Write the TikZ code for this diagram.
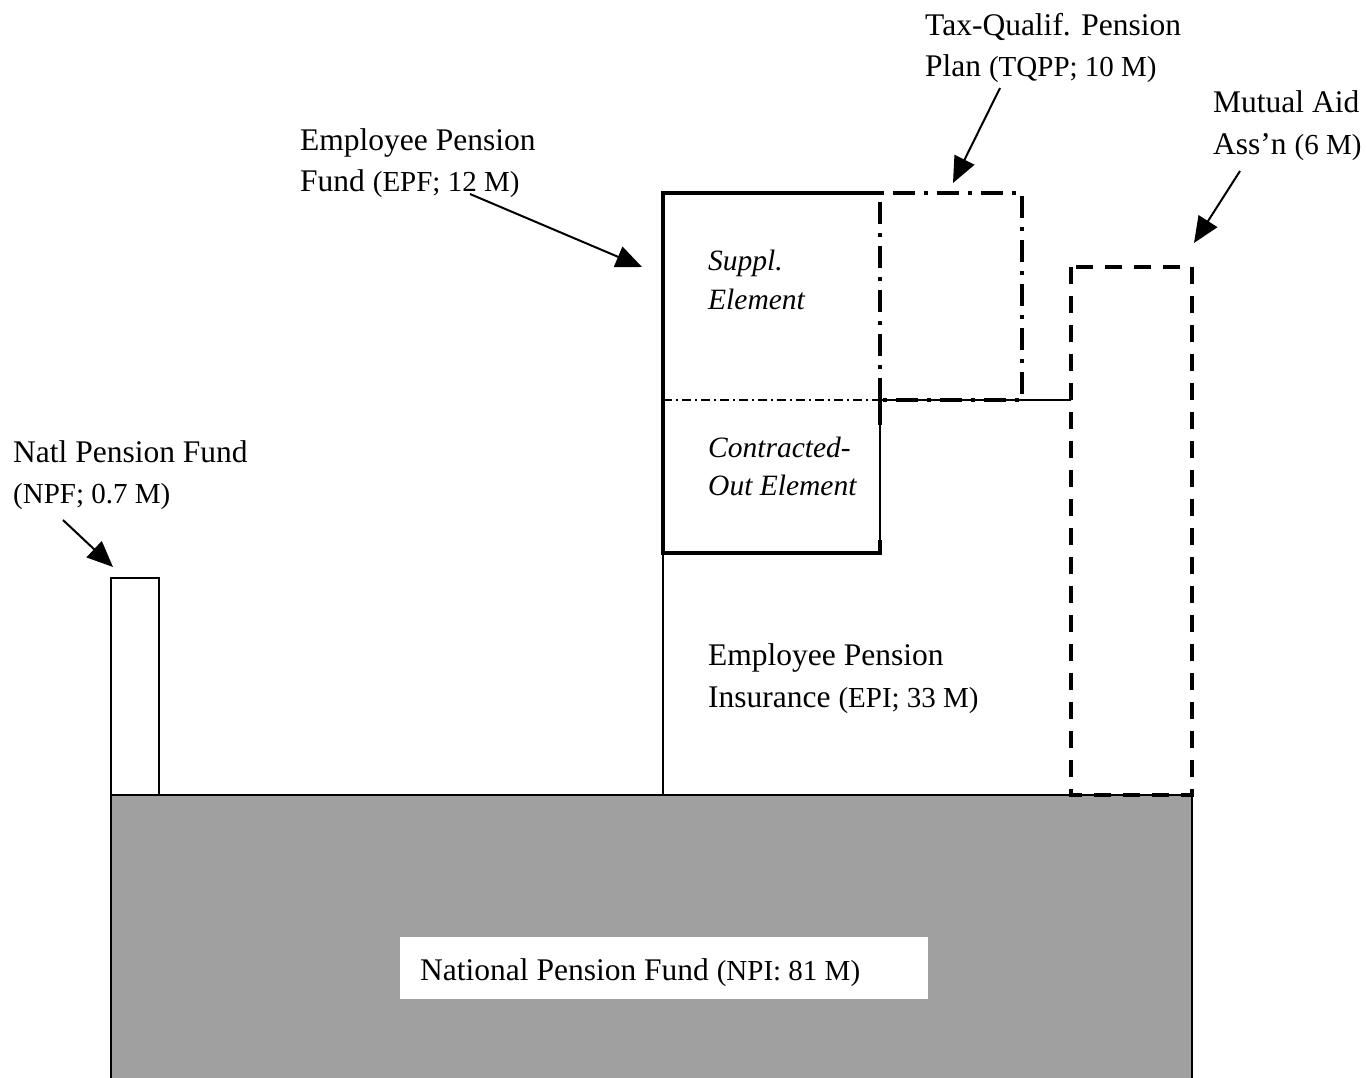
\documentclass[tikz,border=0pt]{standalone}
\usepackage{fontspec}
\setmainfont{Liberation Serif}
\usetikzlibrary{arrows.meta}
\definecolor{basegray}{HTML}{A0A0A0}
\newcommand\smpar[1]{{\fontsize{29}{36}\selectfont #1}}
\tikzset{
  lbl/.style={anchor=base west, inner sep=0pt, font=\fontsize{31.5}{38}\selectfont},
  ital/.style={anchor=base west, inner sep=0pt, font=\fontsize{29.5}{36}\selectfont\itshape},
  ptr/.style={line width=2pt, -{Triangle[length=26pt,width=22pt]}},
  fineline/.style={line width=1.6pt},
  boldbox/.style={line width=4.5pt, line join=miter},
  dashdotbox/.style={line width=3.5pt, dash pattern=on 22pt off 9pt on 4pt off 9pt},
  dashdotfine/.style={line width=1.4pt, dash pattern=on 9pt off 4pt on 2pt off 4pt},
  dashbox/.style={line width=3.5pt, dash pattern=on 17pt off 12pt}
}
\begin{document}
\begin{tikzpicture}[x=1pt,y=-1pt]
\useasboundingbox (0,0) rectangle (1367,1078);

% national base
\fill[basegray] (111,795) rectangle (1192,1078);
\draw[fineline] (111,1078) -- (111,795) -- (1192,795) -- (1192,1078);
\fill[white] (400,937) rectangle (928,999);
\node[lbl] (npi) at (420,980) {National Pension Fund \smpar{(NPI: 81 M)}};

% NPF bar
\draw[fineline, fill=white] (111,795) rectangle (159,578);
\coordinate (npftop) at (113,567);

% EPI
\draw[fineline] (663,553) -- (663,795);
\draw[fineline] (880,400) -- (1071,400);
\draw[fineline] (880,400) -- (880,553);
\node[lbl] (epi1) at (708,665) {Employee Pension};
\node[lbl] (epi2) at (708,707) {Insurance \smpar{(EPI; 33 M)}};

% EPF box
\draw[boldbox] (880,553) -- (663,553) -- (663,193) -- (880,193);
\draw[line width=4.5pt] (880,400) -- (880,425);
\draw[line width=4.5pt] (880,540) -- (880,555.25);
\draw[dashdotfine] (663,400) -- (880,400);
\node[ital] (sup1) at (708,270) {Suppl.};
\node[ital] (sup2) at (708,309) {Element};
\node[ital] (con1) at (708,457) {Contracted-};
\node[ital] (con2) at (708,495) {Out Element};
\coordinate (epftip) at (642,267);

% TQPP box
\draw[dashdotbox] (880,400) -- (880,193) -- (1022,193) -- (1022,400) -- cycle;
\coordinate (tqpptip) at (953,183);

% Mutual aid box
\draw[dashbox] (1071,267) rectangle (1192,795);
\coordinate (mutip) at (1194,243);

% labels
\node[lbl] (npfl1) at (13,462) {Natl Pension Fund};
\node[lbl] (npfl2) at (13,503) {\smpar{(NPF; 0.7 M)}};
\node[lbl] (epfl1) at (300,151) {Employee Pension};
\node[lbl] (epfl2) at (300,192) {Fund \smpar{(EPF; 12 M)}};
\node[lbl] (tql1) at (925,36) {Tax-Qualif. Pension};
\node[lbl] (tql2) at (925,77) {Plan \smpar{(TQPP; 10 M)}};
\node[lbl] (mul1) at (1213,113) {Mutual Aid};
\node[lbl] (mul2) at (1213,155) {Ass’n \smpar{(6 M)}};

% arrows
\coordinate (npfs) at (63,520);
\coordinate (epfs) at (470,194);
\coordinate (tqs) at (1000,88);
\coordinate (mus) at (1240,171);
\draw[ptr] (npfs) -- (npftop);
\draw[ptr] (epfs) -- (epftip);
\draw[ptr] (tqs) -- (tqpptip);
\draw[ptr] (mus) -- (mutip);
\end{tikzpicture}
\end{document}
